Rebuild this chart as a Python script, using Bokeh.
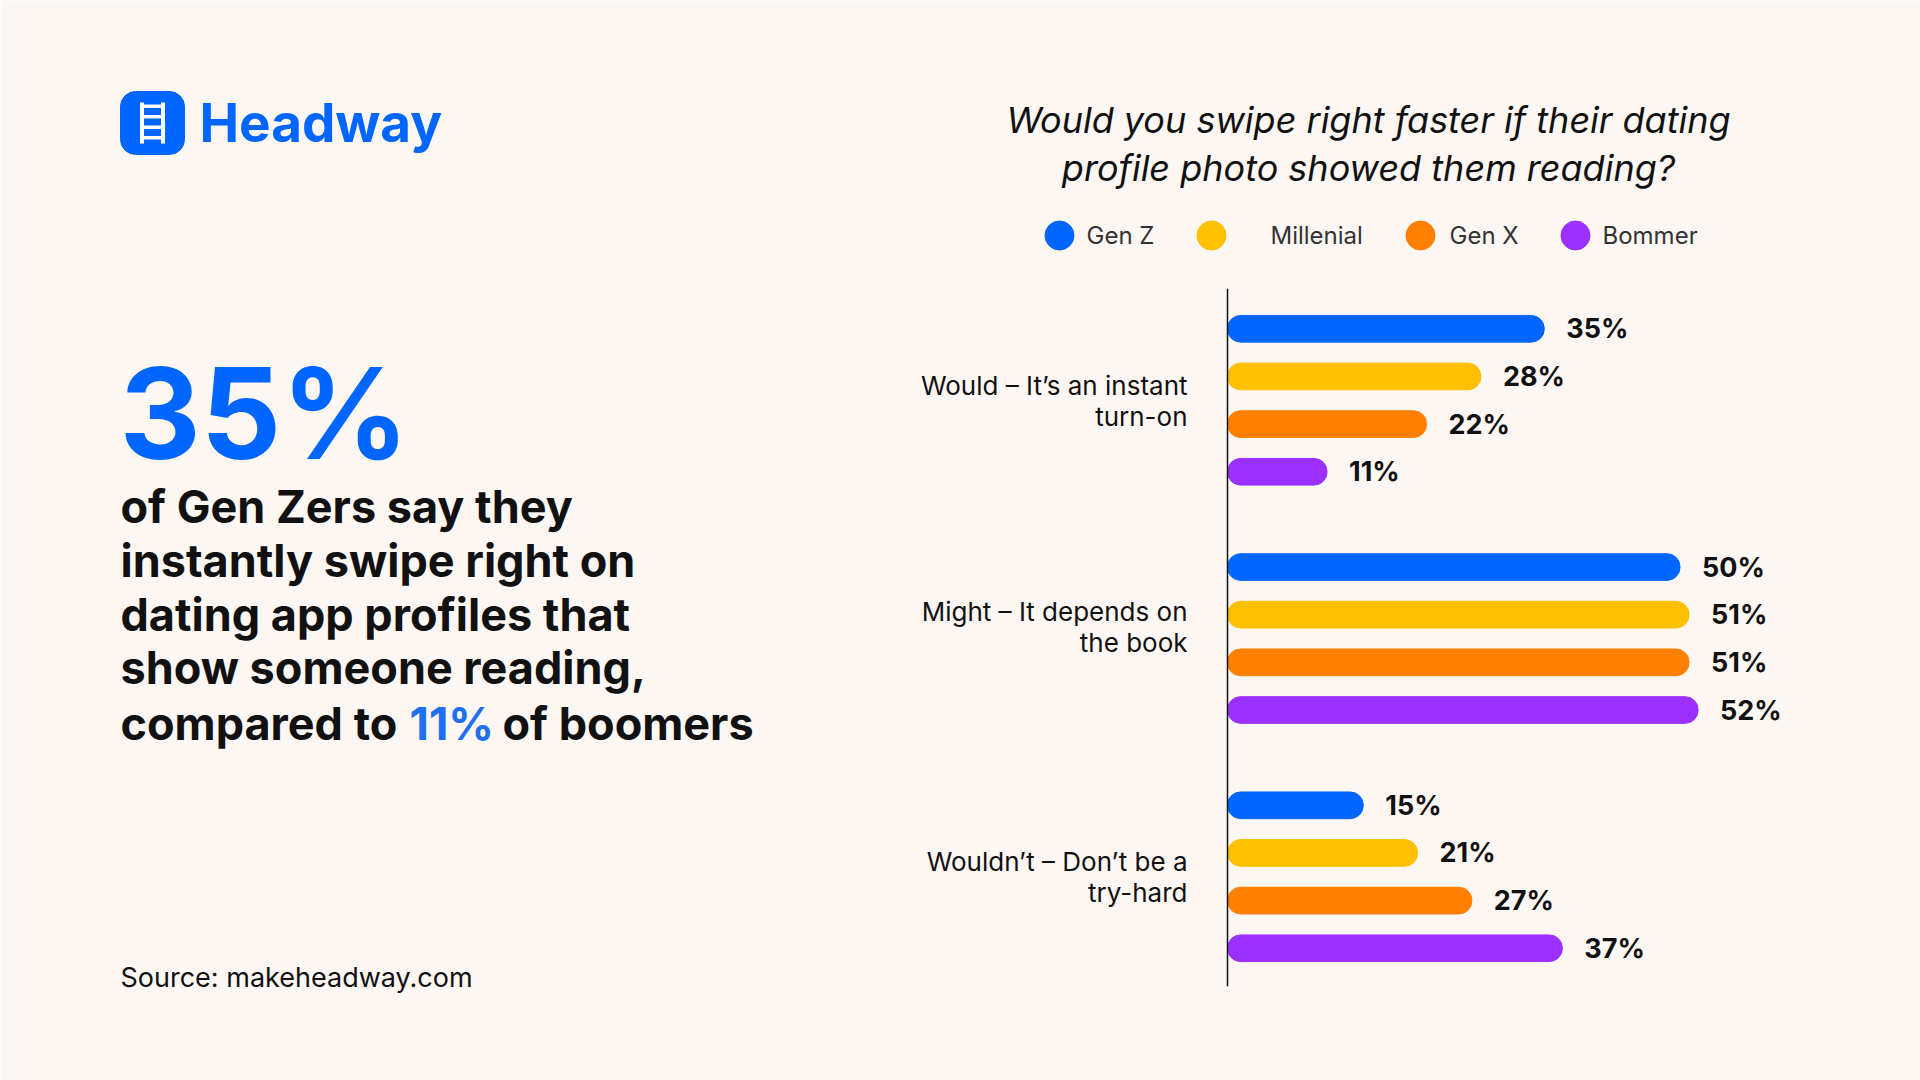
from bokeh.plotting import figure
from bokeh.models import Range1d, ColumnDataSource
from bokeh.core.properties import value
from bokeh.embed import file_html
from bokeh.resources import INLINE

# ---------------- data ----------------
categories = ["Would \u2013 It\u2019s an instant|turn-on",
              "Might \u2013 It depends on|the book",
              "Wouldn\u2019t \u2013 Don\u2019t be a|try-hard"]
series = ["Gen Z", "Millenial", "Gen X", "Bommer"]
gen_z = [35, 50, 15]
millenial = [28, 51, 21]
gen_x = [22, 51, 27]
bommer = [11, 52, 37]
title_lines = ["Would you swipe right faster if their dating",
               "profile photo showed them reading?"]
headline = "35%"
body_lines = ["of Gen Zers say they",
              "instantly swipe right on",
              "dating app profiles that",
              "show someone reading,"]
last_line = ["compared to", "11%", "of boomers"]
source_text = "Source: makeheadway.com"
brand = "Headway"

# ---------------- style ----------------
BG = "#FDF7F4"
COLORS = ["#0066FF", "#FFC000", "#FF8000", "#9B30FF"]
BLUE = "#0066FF"
INK = "#111111"
FONT = value("Inter")

W, H = 1920, 1080
BAR_X0 = 1227.0       # pixel where 0 % sits
PX_PER_PCT = 9.05
SLOT0 = 328.3         # pixel of first bar centre
SLOT_PX = 47.65
BAR_H = 0.56          # in slot units

p = figure(width=W, height=H, x_range=Range1d(0, W), y_range=Range1d(H, 0),
           min_border=0, toolbar_location=None, output_backend="svg",
           x_axis_location=None, y_axis_location=None,
           background_fill_color=BG, border_fill_color=BG, outline_line_color=None)
p.grid.visible = False

p.extra_x_ranges = {"pct": Range1d(-BAR_X0 / PX_PER_PCT, (W - BAR_X0) / PX_PER_PCT)}
p.extra_y_ranges = {"slot": Range1d((H - SLOT0) / SLOT_PX, -SLOT0 / SLOT_PX)}

# ---------------- bars ----------------
all_vals = [gen_z, millenial, gen_x, bommer]
ys, vals, cols, labs = [], [], [], []
for g in range(len(categories)):
    for s in range(len(series)):
        ys.append(g * (len(series) + 1) + s)
        vals.append(all_vals[s][g])
        cols.append(COLORS[s])
        labs.append(f"{all_vals[s][g]}%")
src = ColumnDataSource(dict(y=ys, v=vals, c=cols, t=labs))
p.hbar(y="y", left=0, right="v", height=BAR_H, color="c", source=src,
       border_radius=13, x_range_name="pct", y_range_name="slot")
p.text(x="v", y="y", text="t", source=src, x_range_name="pct", y_range_name="slot",
       x_offset=22, text_baseline="middle", text_align="left", text_font=FONT,
       text_font_size="27px", text_font_style="bold", text_color=INK)

# axis line
p.segment(x0=[0], x1=[0], y0=[min(ys) - 0.84], y1=[max(ys) + 0.8], x_range_name="pct",
          y_range_name="slot", line_color=INK, line_width=1.5)

# category labels
shift = [0.0, -0.25, 0.0]
cx, cy, ct = [], [], []
for g, cat in enumerate(categories):
    centre = g * (len(series) + 1) + (len(series) - 1) / 2 + shift[g]
    l1, l2 = cat.split("|")
    cx += [1187, 1187]
    cy += [centre - 0.32, centre + 0.34]
    ct += [l1, l2]
p.text(x=cx, y=cy, text=ct, y_range_name="slot", text_align="right",
       text_baseline="middle", text_font=FONT, text_font_size="26px", text_color=INK)

# ---------------- title & legend ----------------
p.text(x=[1368, 1368], y=[119, 167], text=title_lines, text_align="center",
       text_baseline="middle", text_font=FONT, text_font_size="36px",
       text_font_style="italic", text_color=INK)

leg_cx = [1059, 1211, 1420, 1575]
leg_tx = [1086, 1270, 1449, 1602]
p.scatter(x=leg_cx, y=[235] * 4, size=29, marker="circle", color=COLORS)
p.text(x=leg_tx, y=[235] * 4, text=series, text_baseline="middle", text_align="left",
       text_font=FONT, text_font_size="24px", text_color="#333333")

# ---------------- logo ----------------
p.quad(left=[120], right=[184], top=[91], bottom=[154], color=BLUE, border_radius=15)
p.quad(left=[139.5, 160.5], right=[143.5, 164.5], top=[102, 102], bottom=[143, 143],
       color="white", line_color=None)
p.quad(left=[139.5] * 4, right=[164.5] * 4, top=[104, 114.5, 125, 135.5],
       bottom=[107.5, 118, 128.5, 139], color="white", line_color=None)
p.text(x=[199], y=[122], text=[brand], text_baseline="middle", text_font=FONT,
       text_font_size="53px", text_font_style="bold", text_color=BLUE)

# ---------------- left text ----------------
p.text(x=[119], y=[412], text=[headline], text_baseline="middle", text_font=FONT,
       text_font_size="126px", text_font_style="bold", text_color=BLUE)
p.text(x=[120] * 4, y=[506, 560, 613.5, 667], text=body_lines, text_baseline="middle",
       text_font=FONT, text_font_size="45px", text_font_style="bold", text_color=INK)
p.text(x=[120, 409, 502], y=[722.5] * 3, text=last_line, text_baseline="middle",
       text_font=FONT, text_font_size="45px", text_font_style="bold",
       text_color=[INK, "#1F6FF2", INK])
p.text(x=[120], y=[977], text=[source_text], text_baseline="middle", text_font=FONT,
       text_font_size="27px", text_color=INK)

open("out.html", "w").write(file_html(p, INLINE))
